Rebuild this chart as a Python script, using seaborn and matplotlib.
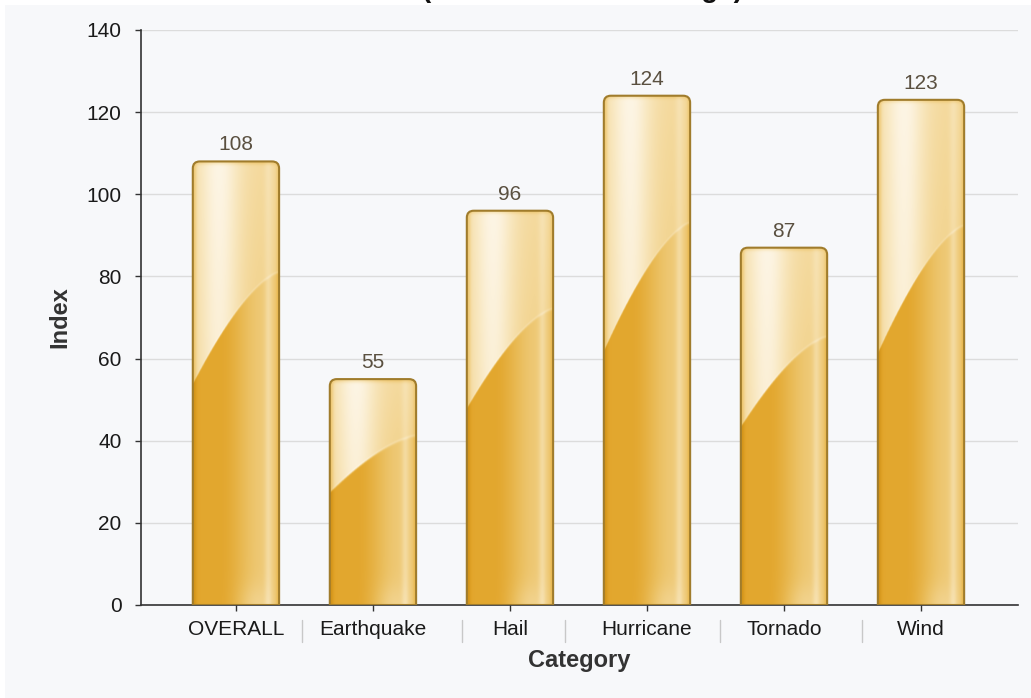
import numpy as np
import pandas as pd
import matplotlib
matplotlib.use("Agg")
import matplotlib.pyplot as plt
import seaborn as sns
from matplotlib.path import Path
from matplotlib.patches import PathPatch, Rectangle
from matplotlib.colors import LinearSegmentedColormap
from matplotlib.transforms import blended_transform_factory

# ---- data -------------------------------------------------------------
categories = ["OVERALL", "Earthquake", "Hail", "Hurricane", "Tornado", "Wind"]
index_values = [108, 55, 96, 124, 87, 123]
y_ticks = [0, 20, 40, 60, 80, 100, 120, 140]
title_text = "(100 = National Average)"
x_label = "Category"
y_label = "Index"

# ---- style ------------------------------------------------------------
W, H = 1031, 698
sns.set_theme(style="white")
plt.rcParams["font.family"] = ["Liberation Sans", "DejaVu Sans"]

fig = plt.figure(figsize=(W / 100, H / 100), dpi=100)
fig.patch.set_facecolor("white")
fig.add_artist(Rectangle((5 / W, 0), 1, (H - 5) / H, transform=fig.transFigure,
                         facecolor="#f7f8fa", edgecolor="none", zorder=-10))

ax = fig.add_axes([141 / W, (H - 605) / H, (1018 - 141) / W, (605 - 30) / H])
ax.set_facecolor("none")

df = pd.DataFrame({"Category": categories, "Index": index_values})
sns.barplot(data=df, x="Category", y="Index", color="#E3A62B", width=0.63,
            ax=ax, zorder=2)

XLIM = (-0.693, 5.708)
ax.set_xlim(*XLIM)
ax.set_ylim(0, 140)
ax.set_yticks(y_ticks)
ax.yaxis.grid(True, color="#dcdcdc", lw=1)
ax.xaxis.grid(False)
ax.set_axisbelow(True)
for side in ("top", "right"):
    ax.spines[side].set_visible(False)
for side in ("left", "bottom"):
    ax.spines[side].set_color("#333333")
    ax.spines[side].set_linewidth(1.2)
ax.tick_params(axis="both", length=4, width=1, color="#333333",
               labelsize=15, labelcolor="#1a1a1a", left=True, bottom=True)
ax.tick_params(axis="y", pad=10)
ax.tick_params(axis="x", pad=7)

ax.set_xlabel(x_label, fontsize=17, fontweight="bold", color="#333333")
ax.set_ylabel(y_label, fontsize=17, fontweight="bold", color="#333333")
ax.xaxis.set_label_coords(0.5, -0.0957)
ax.xaxis.label.set_va("center")
ax.yaxis.set_label_coords(-0.092, 0.5)
ax.yaxis.label.set_va("center")

# ---- glossy gold bars -------------------------------------------------
gold = LinearSegmentedColormap.from_list(
    "gold", [(0.0, "#D39419"), (0.2, "#E2A52A"), (0.45, "#EBC061"),
             (0.68, "#F3D695"), (0.86, "#F9E9C4"), (1.0, "#FEF8ED")])

p0 = ax.transData.transform((0, 0))
p1 = ax.transData.transform((1, 1))
px_x, px_y = p1[0] - p0[0], p1[1] - p0[1]
radius_px = 7.0
rx, ry = radius_px / px_x, radius_px / px_y


def rounded_top(x0, x1, h):
    verts = [(x0, 0), (x0, h - ry), (x0, h), (x0 + rx, h),
             (x1 - rx, h), (x1, h), (x1, h - ry), (x1, 0), (x0, 0)]
    codes = [Path.MOVETO, Path.LINETO, Path.CURVE3, Path.CURVE3,
             Path.LINETO, Path.CURVE3, Path.CURVE3, Path.LINETO, Path.CLOSEPOLY]
    return Path(verts, codes)


def shading(h):
    hpx = h * px_y
    nx, ny = 140, max(int(hpx), 50)
    u = np.linspace(0, 1, nx)[None, :]
    v = np.linspace(0, 1, ny)[:, None]
    c = 0.5 + 0.25 * (1 - (1 - u) ** 1.5)
    g_left = np.exp(-((u - 0.3) / 0.25) ** 2)
    stripe = np.exp(-((u - 0.87) / 0.045) ** 2)
    edge = np.exp(-(u / 0.035) ** 2) + np.exp(-((1 - u) / 0.035) ** 2)
    ramp = np.clip((u - 0.3) / 0.52, 0, 1)
    ramp = ramp * ramp * (3 - 2 * ramp)
    above = 0.66 + 0.26 * g_left + 0.08 * stripe \
        + 0.05 * np.clip((v - c) / (1 - c), 0, 1)
    below = 0.22 + 0.32 * ramp + 0.18 * stripe \
        + 0.12 * np.exp(-((u - 0.7) / 0.2) ** 2) * np.exp(-(v * hpx / 20) ** 2)
    t = np.clip((v - c) * hpx / 2 + 0.5, 0, 1)
    hl = np.exp(-((v - c) * hpx / 1.5) ** 2)
    L = below * (1 - t) + above * t + 0.1 * hl - 0.25 * edge
    L -= 0.2 * np.exp(-((1 - v) * hpx / 3) ** 2)
    return gold(np.clip(L, 0, 1))


for bar in list(ax.patches):
    x0, w, h = bar.get_x(), bar.get_width(), bar.get_height()
    bar.set_visible(False)
    outline = PathPatch(rounded_top(x0, x0 + w, h), facecolor="none",
                        edgecolor="#A07C2C", lw=1.5, zorder=3)
    ax.add_patch(outline)
    im = ax.imshow(shading(h), extent=[x0, x0 + w, 0, h], origin="lower",
                   aspect="auto", interpolation="bilinear", zorder=2)
    im.set_clip_path(outline)

ax.set_xlim(*XLIM)
ax.set_ylim(0, 140)

# value labels above each bar
ax.bar_label(ax.containers[0], labels=[str(v) for v in index_values],
             padding=5, fontsize=15, color="#5a5040")

# thin separators between category labels
sep_trans = blended_transform_factory(ax.transData, ax.transAxes)
for xs in [0.48, 1.65, 2.40, 3.53, 4.57]:
    ax.plot([xs, xs], [-0.026, -0.064], transform=sep_trans, clip_on=False,
            color="#c8c8c8", lw=1)

# chart title, sitting just above the top edge of the canvas
fig.text(582 / W, 1 + 3 / H, title_text, ha="center", va="baseline",
         fontsize=20, fontweight="bold", color="#111111")

fig.savefig("out.png", dpi=100)
